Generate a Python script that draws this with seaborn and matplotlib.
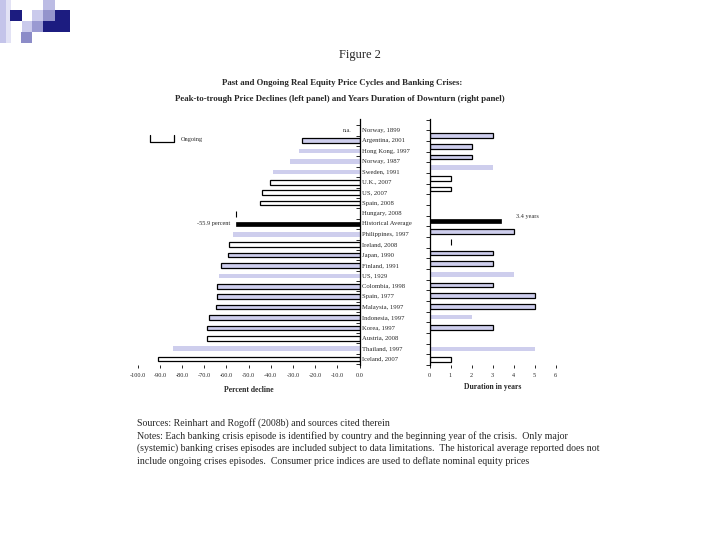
import numpy as np
import pandas as pd
import seaborn as sns
import matplotlib.pyplot as plt
from matplotlib.patches import Rectangle
from matplotlib.lines import Line2D
from matplotlib.transforms import blended_transform_factory

sns.set_style('white')
plt.rcParams['font.family'] = ['Liberation Serif', 'DejaVu Serif']

# Crisis episodes, top to bottom
episodes = ['Norway, 1899', 'Argentina, 2001', 'Hong Kong, 1997', 'Norway, 1987',
            'Sweden, 1991', 'U.K., 2007', 'US, 2007', 'Spain, 2008', 'Hungary, 2008',
            'Historical Average', 'Philippines, 1997', 'Ireland, 2008', 'Japan, 1990',
            'Finland, 1991', 'US, 1929', 'Colombia, 1998', 'Spain, 1977',
            'Malaysia, 1997', 'Indonesia, 1997', 'Korea, 1997', 'Austria, 2008',
            'Thailand, 1997', 'Iceland, 2007']

# peak-to-trough decline (percent), left panel
decline = [np.nan, -26.0, -27.5, -31.3, -39.1, -40.3, -43.9, -44.8, np.nan,
           -55.9, -57.1, -58.9, -59.5, -62.4, -63.2, -64.1, -64.5, -64.9,
           -67.8, -68.7, -68.7, -83.9, -90.7]
# bar style on the left panel
decline_style = ['na', 'edge', 'plain', 'plain', 'plain', 'ongoing', 'ongoing', 'ongoing', 'na',
                 'average', 'plain', 'ongoing', 'edge', 'edge', 'plain', 'edge', 'edge', 'edge',
                 'edge', 'edge', 'ongoing', 'plain', 'ongoing']

# duration of downturn (years), right panel
duration = [np.nan, 3, 2, 2, 3, 1, 1, np.nan, np.nan, 3.4, 4, np.nan, 3, 3, 4, 3, 5, 5,
            2, 3, np.nan, 5, 1]
duration_style = ['na', 'edge', 'edge', 'edge', 'plain', 'ongoing', 'ongoing', 'na', 'na',
                  'average', 'edge', 'na', 'edge', 'edge', 'plain', 'edge', 'edge', 'edge',
                  'plain', 'edge', 'na', 'plain', 'ongoing']

left_df = pd.DataFrame({'episode': episodes, 'value': decline, 'style': decline_style})
right_df = pd.DataFrame({'episode': episodes, 'value': duration, 'style': duration_style})

lav = '#c9c9f2'
styles = {
    'edge': dict(color=lav, edgecolor='black', linewidth=0.9),
    'plain': dict(color=lav, edgecolor=lav, linewidth=0),
    'ongoing': dict(color='white', edgecolor='black', linewidth=0.9),
    'average': dict(color='black', edgecolor='black', linewidth=0.5),
}

W, H = 720, 540
fig = plt.figure(figsize=(7.2, 5.4), dpi=100)


def px_axes(x0, y0, x1, y1):
    return fig.add_axes([x0 / W, 1 - y1 / H, (x1 - x0) / W, (y1 - y0) / H])


ax_l = px_axes(137.8, 119, 359.5, 365)
ax_r = px_axes(429.5, 119, 555.5, 365)

for ax, df in [(ax_l, left_df), (ax_r, right_df)]:
    for st, kw in styles.items():
        sub = df[df['style'] == st]
        sns.barplot(data=sub, x='value', y='episode', order=episodes, orient='h',
                    width=0.45, ax=ax, **kw)

n = len(episodes)

# left panel axes
ax_l.set_xlim(-100, 0)
ax_l.set_ylim(22.57, -1.09)
ax_l.set_xticks(np.arange(-100, 1, 10))
ax_l.set_xticklabels([f'{v:.1f}' for v in np.arange(-100, 1, 10)], fontsize=4.5)
ax_l.set_yticks(np.arange(-0.5, n, 1))
ax_l.set_yticklabels([])
ax_l.yaxis.tick_right()
for s in ['top', 'left', 'bottom']:
    ax_l.spines[s].set_visible(False)
ax_l.spines['right'].set_linewidth(0.9)
ax_l.spines['right'].set_color('black')
ax_l.tick_params(axis='y', direction='in', length=3, width=0.7, right=True, left=False)
ax_l.tick_params(axis='x', direction='out', length=2.5, width=0.7, pad=3, bottom=True)
ax_l.set_xlabel('Percent decline', fontsize=5.5, fontweight='bold', labelpad=6)
ax_l.set_ylabel('')

# right panel axes
ax_r.set_xlim(0, 6)
ax_r.set_ylim(22.47, -0.56)
ax_r.set_xticks(range(0, 7))
ax_r.set_xticklabels([str(v) for v in range(0, 7)], fontsize=4.5)
ax_r.set_yticks(np.arange(-0.5, n, 1))
ax_r.set_yticklabels([])
for s in ['top', 'right', 'bottom']:
    ax_r.spines[s].set_visible(False)
ax_r.spines['left'].set_linewidth(0.9)
ax_r.spines['left'].set_color('black')
ax_r.tick_params(axis='y', direction='out', length=3, width=0.7, left=True)
ax_r.tick_params(axis='x', direction='out', length=2.5, width=0.7, pad=3, bottom=True)
ax_r.set_xlabel('Duration in years', fontsize=5.5, fontweight='bold', labelpad=4)
ax_r.set_ylabel('')

# episode names between the panels
tr = blended_transform_factory(ax_l.transAxes, ax_l.transData)
for i, name in enumerate(episodes):
    ax_l.text(1.012, i, name, transform=tr, fontsize=4.8, va='center', ha='left')

# annotations
ax_l.text(-3.5, 0, 'n.a.', fontsize=4.3, ha='right', va='center')
ax_l.text(-58.5, 9, '-55.9 percent', fontsize=4.5, ha='right', va='center')
ax_l.plot([-55.7], [8], marker='|', color='black', markersize=4, markeredgewidth=0.8)
ax_r.plot([1], [11], marker='|', color='black', markersize=4, markeredgewidth=0.8)
ax_r.text(4.1, 8.6, '3.4 years', fontsize=4.5, ha='left', va='center')

# legend "Ongoing"
fig.add_artist(Line2D([150 / W, 150 / W, 174 / W, 174 / W],
                      [1 - 135 / H, 1 - 141.5 / H, 1 - 141.5 / H, 1 - 135 / H],
                      color='black', lw=0.9))
fig.text(181 / W, 1 - 140 / H, 'Ongoing', fontsize=4.5, va='center')

# titles
fig.text(360 / W, 1 - 55 / H, 'Figure 2', fontsize=9, ha='center', va='center')
fig.text(342 / W, 1 - 83 / H, 'Past and Ongoing Real Equity Price Cycles and Banking Crises:',
         fontsize=6.3, fontweight='bold', ha='center', va='center')
fig.text(340 / W, 1 - 99 / H,
         'Peak-to-trough Price Declines (left panel) and Years Duration of Downturn (right panel)',
         fontsize=6.3, fontweight='bold', ha='center', va='center')

notes = ['Sources: Reinhart and Rogoff (2008b) and sources cited therein',
         'Notes: Each banking crisis episode is identified by country and the beginning year of the crisis.  Only major',
         '(systemic) banking crises episodes are included subject to data limitations.  The historical average reported does not',
         'include ongoing crises episodes.  Consumer price indices are used to deflate nominal equity prices']
for k, line in enumerate(notes):
    fig.text(137 / W, 1 - (423 + 12.7 * k) / H, line, fontsize=7.1, va='center', ha='left')

# slide corner decoration
squares = [(0, 0, 6, 43, '#c4c4ea'), (6, 0, 5, 43, '#e2e2f5'), (10, 10, 12, 11, '#1c1c80'),
           (22, 21, 10, 11, '#cacaec'), (21, 32, 11, 11, '#8c8cc8'), (32, 10, 11, 11, '#cacaec'),
           (32, 21, 11, 11, '#9a9ad2'), (43, 0, 12, 10, '#bcbce4'), (43, 10, 12, 11, '#9494cc'),
           (55, 10, 15, 11, '#1c1c80'), (43, 21, 27, 11, '#1c1c80')]
for x, y, w, h, c in squares:
    fig.patches.append(Rectangle((x / W, 1 - (y + h) / H), w / W, h / H,
                                 transform=fig.transFigure, color=c, lw=0))

fig.savefig('out.png', dpi=100)
